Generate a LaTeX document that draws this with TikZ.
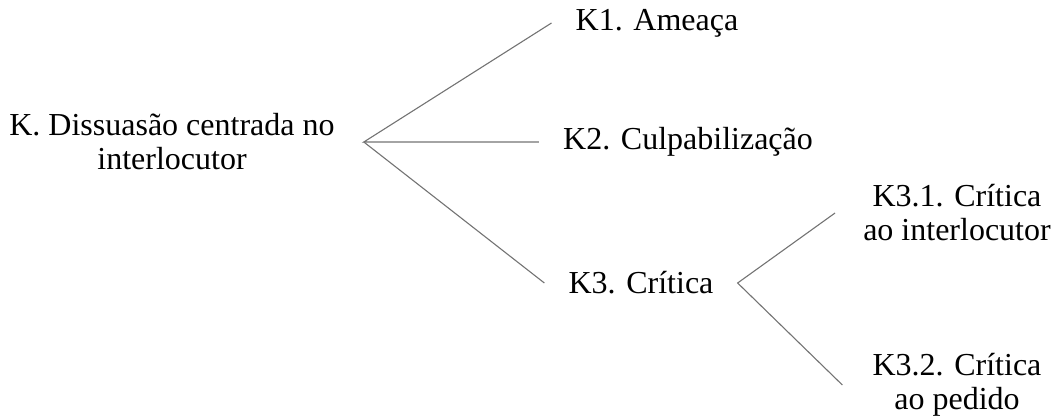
\documentclass[tikz,border=0pt]{standalone}
\usepackage{fontspec}
\setmainfont{Liberation Serif}
\usetikzlibrary{calc}

\begin{document}
\begin{tikzpicture}[x=1pt,y=-1pt,
  every node/.style={inner sep=0pt,inner xsep=24pt,align=center,font=\fontsize{32}{34}\selectfont},
  branch/.style={draw=black!55,line width=1.1pt}]
  \useasboundingbox (0,0) rectangle (1053,419);
  \path (172,142) node[inner xsep=29pt] (k) {K. Dissuas\~ao centrada no\\interlocutor}
  (657,23) node (k1) {K1. Amea\c{c}a}
  (688,142) node (k2) {K2. Culpabiliza\c{c}\~ao}
  (641,283) node (k3) {K3. Cr\'itica}
  (957,213) node[inner xsep=28pt] (k31) {K3.1. Cr\'itica\\ao interlocutor}
  (957,385) node[inner xsep=30pt] (k32) {K3.2. Cr\'itica\\ao pedido};
  \draw[branch] (k1.west) -- (k.east) -- (k2.west);
  \draw[branch] (k.east) -- (k3.west);
  \draw[branch] (k31.west) -- (k3.east) -- (k32.west);
\end{tikzpicture}
\end{document}
